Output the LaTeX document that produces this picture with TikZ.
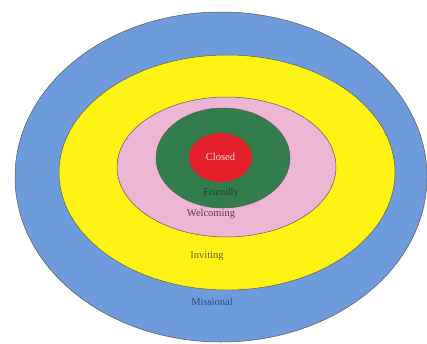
\documentclass[tikz,border=0pt]{standalone}
\usepackage{fontspec}
\setmainfont{Liberation Serif}
\definecolor{cblue}{RGB}{110,155,220}
\definecolor{cyellow}{RGB}{255,243,20}
\definecolor{cpink}{RGB}{236,182,212}
\definecolor{cgreen}{RGB}{50,125,75}
\definecolor{cred}{RGB}{228,32,42}
\definecolor{tgreen}{RGB}{30,70,40}
\definecolor{tpurple}{RGB}{85,55,85}
\definecolor{tolive}{RGB}{100,100,30}
\definecolor{tblue}{RGB}{40,75,130}
\tikzset{ring/.style={draw=black!65,line width=0.5pt},
lbl/.style={font=\fontsize{10.5}{12}\selectfont,inner sep=0pt}}
\begin{document}
\begin{tikzpicture}[x=1pt,y=-1pt]
\useasboundingbox[fill=white] (0,0) rectangle (427,343);
\path[ring,fill=cblue] (221,177) ellipse [x radius=206,y radius=165];
\path[ring,fill=cyellow] (227,172.5) ellipse [x radius=168,y radius=117.5];
\path[ring,fill=cpink] (226.5,167) ellipse [x radius=109.5,y radius=70];
\path[ring,fill=cgreen] (223,158) ellipse [x radius=67,y radius=50];
\path[ring,draw=none,fill=cred] (220.5,157.5) ellipse [x radius=31.5,y radius=24.5];
\node[lbl,text=white!85!red] (closed) at (220.5,157) {Closed};
\node[lbl,text=tgreen] (friendly) at (221,193) {Friendly};
\node[lbl,text=tpurple] (welcoming) at (211,214) {Welcoming};
\node[lbl,text=tolive] (inviting) at (207,256) {Inviting};
\node[lbl,text=tblue] (missional) at (212,302) {Missional};
\end{tikzpicture}
\end{document}
